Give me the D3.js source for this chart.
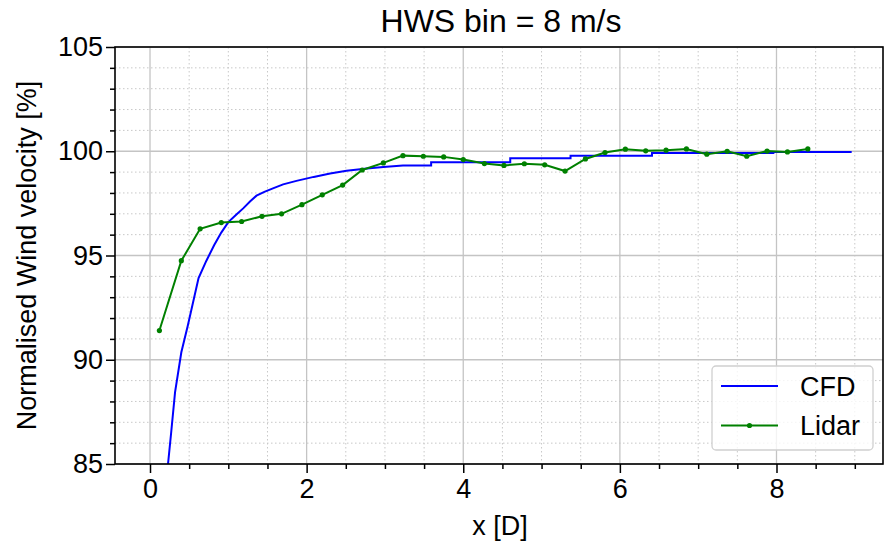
<!DOCTYPE html>
<html>
<head>
<meta charset="utf-8">
<title>HWS bin = 8 m/s</title>
<script src="https://cdn.jsdelivr.net/npm/d3@7"></script>
<style>
  body { margin: 0; background: #fff; }
  text { font-family: "Liberation Sans", Arial, sans-serif; fill: #000; }
</style>
</head>
<body>
<div id="chart"></div>
<script>
// CFD profile
var cfdX = [0.10, 0.23, 0.27, 0.32, 0.40, 0.48, 0.62, 0.72, 0.82, 0.91, 1.00, 1.10, 1.19, 1.28, 1.36, 1.46, 1.57, 1.70, 1.87, 2.09, 2.30, 2.51, 2.77, 2.98, 3.23, 3.59, 3.59, 4.60, 4.60, 5.37, 5.37, 6.41, 6.41, 7.96, 7.96, 8.96]
var cfdY = [80.5, 85.0, 86.5, 88.45, 90.36, 91.6, 93.92, 94.75, 95.5, 96.1, 96.6, 96.95, 97.26, 97.6, 97.87, 98.05, 98.22, 98.41, 98.58, 98.77, 98.93, 99.06, 99.17, 99.25, 99.32, 99.32, 99.47, 99.47, 99.67, 99.67, 99.79, 99.79, 99.92, 99.92, 99.97, 99.97]

// Lidar measurements
var lidarX = [0.12, 0.40, 0.64, 0.91, 1.17, 1.43, 1.68, 1.94, 2.20, 2.46, 2.71, 2.98, 3.23, 3.49, 3.75, 4.00, 4.27, 4.52, 4.78, 5.04, 5.30, 5.56, 5.81, 6.07, 6.33, 6.59, 6.85, 7.11, 7.37, 7.62, 7.88, 8.14, 8.40]
var lidarY = [91.4, 94.75, 96.28, 96.58, 96.63, 96.88, 97.0, 97.44, 97.91, 98.38, 99.1, 99.44, 99.79, 99.76, 99.73, 99.6, 99.41, 99.32, 99.4, 99.35, 99.05, 99.63, 99.94, 100.1, 100.02, 100.05, 100.11, 99.86, 100.0, 99.76, 100.01, 99.97, 100.11]

var xTicks = [0, 2, 4, 6, 8]
var yTicks = [85, 90, 95, 100, 105]
var seriesNames = ["CFD", "Lidar"]
var titleText = "HWS bin = 8 m/s"
var xLabel = "x [D]"
var yLabel = "Normalised Wind velocity [%]"

var W = 887, H = 543
var pLeft = 115, pRight = 883, pTop = 47, pBottom = 464

var svg = d3.select("#chart").append("svg")
  .attr("width", W).attr("height", H)

var x = d3.scaleLinear().domain([-0.447, 9.36]).range([pLeft, pRight])
var y = d3.scaleLinear().domain([85, 105]).range([pBottom, pTop])

var xMinor = d3.range(0, 9.5, 0.5).filter(function(d) { return xTicks.indexOf(d) < 0 && x(d) < pRight })
var yMinor = d3.range(85, 105.5, 1).filter(function(d) { return yTicks.indexOf(d) < 0 })

svg.append("clipPath").attr("id", "clip")
  .append("rect").attr("x", pLeft).attr("y", pTop).attr("width", pRight - pLeft).attr("height", pBottom - pTop)

// minor grid
var grid = svg.append("g")
grid.selectAll(".gxm").data(xMinor).enter().append("line")
  .attr("x1", function(d) { return x(d) }).attr("x2", function(d) { return x(d) })
  .attr("y1", pTop).attr("y2", pBottom)
  .attr("stroke", "#c8c8c8").attr("stroke-width", 1).attr("stroke-dasharray", "1.5,2.5")
grid.selectAll(".gym").data(yMinor).enter().append("line")
  .attr("y1", function(d) { return y(d) }).attr("y2", function(d) { return y(d) })
  .attr("x1", pLeft).attr("x2", pRight)
  .attr("stroke", "#c8c8c8").attr("stroke-width", 1).attr("stroke-dasharray", "1.5,2.5")
// major grid
grid.selectAll(".gx").data(xTicks).enter().append("line")
  .attr("x1", function(d) { return x(d) }).attr("x2", function(d) { return x(d) })
  .attr("y1", pTop).attr("y2", pBottom)
  .attr("stroke", "#c4c4c4").attr("stroke-width", 1.3)
grid.selectAll(".gy").data(yTicks).enter().append("line")
  .attr("y1", function(d) { return y(d) }).attr("y2", function(d) { return y(d) })
  .attr("x1", pLeft).attr("x2", pRight)
  .attr("stroke", "#c4c4c4").attr("stroke-width", 1.3)

// data lines
var cfd = cfdX.map(function(d, i) { return [d, cfdY[i]] })
var lidar = lidarX.map(function(d, i) { return [d, lidarY[i]] })
var line = d3.line().x(function(d) { return x(d[0]) }).y(function(d) { return y(d[1]) })

var plot = svg.append("g").attr("clip-path", "url(#clip)")
plot.append("path").datum(cfd).attr("d", line)
  .attr("fill", "none").attr("stroke", "#0000ff").attr("stroke-width", 2)
plot.append("path").datum(lidar).attr("d", line)
  .attr("fill", "none").attr("stroke", "#008000").attr("stroke-width", 2)
plot.selectAll(".pt").data(lidar).enter().append("circle")
  .attr("cx", function(d) { return x(d[0]) }).attr("cy", function(d) { return y(d[1]) })
  .attr("r", 2.6).attr("fill", "#008000")

// axes
var xAxis = d3.axisBottom(x).tickValues(xTicks).tickSize(9).tickPadding(6).tickFormat(d3.format("d"))
var yAxis = d3.axisLeft(y).tickValues(yTicks).tickSize(9).tickPadding(3).tickFormat(d3.format("d"))
var gx = svg.append("g").attr("transform", "translate(0," + pBottom + ")").call(xAxis)
var gy = svg.append("g").attr("transform", "translate(" + pLeft + ",0)").call(yAxis)
svg.append("g").attr("transform", "translate(0," + pBottom + ")")
  .call(d3.axisBottom(x).tickValues(xMinor).tickSize(5).tickFormat(""))
svg.append("g").attr("transform", "translate(" + pLeft + ",0)")
  .call(d3.axisLeft(y).tickValues(yMinor).tickSize(5).tickFormat(""))
svg.selectAll(".domain").remove()
svg.selectAll(".tick line").attr("stroke", "#000").attr("stroke-width", 1.5)
gx.selectAll("text").attr("font-size", 27).style("font-family", "Liberation Sans, Arial, sans-serif")
gy.selectAll("text").attr("font-size", 27).style("font-family", "Liberation Sans, Arial, sans-serif")

// frame
svg.append("rect").attr("x", pLeft).attr("y", pTop).attr("width", pRight - pLeft).attr("height", pBottom - pTop)
  .attr("fill", "none").attr("stroke", "#000").attr("stroke-width", 1.6)

// title and labels
svg.append("text").attr("x", 501).attr("y", 32).attr("text-anchor", "middle")
  .attr("font-size", 32).text(titleText)
svg.append("text").attr("x", 500).attr("y", 535).attr("text-anchor", "middle")
  .attr("font-size", 27).text(xLabel)
svg.append("text").attr("transform", "translate(36," + ((pTop + pBottom) / 2) + ") rotate(-90)")
  .attr("text-anchor", "middle").attr("font-size", 27).text(yLabel)

// legend
var lg = svg.append("g")
lg.append("rect").attr("x", 712).attr("y", 366).attr("width", 161).attr("height", 84)
  .attr("rx", 4).attr("fill", "#fff").attr("fill-opacity", 0.8)
  .attr("stroke", "#d0d0d0").attr("stroke-width", 1.3)
var legColors = ["#0000ff", "#008000"]
seriesNames.forEach(function(name, i) {
  var ly = 386 + i * 39.5
  lg.append("line").attr("x1", 721).attr("x2", 778).attr("y1", ly).attr("y2", ly)
    .attr("stroke", legColors[i]).attr("stroke-width", 2)
  if (name === "Lidar") {
    lg.append("circle").attr("cx", 749.5).attr("cy", ly).attr("r", 2.6).attr("fill", legColors[i])
  }
  lg.append("text").attr("x", 800).attr("y", ly + 9.5).attr("font-size", 27).text(name)
})
</script>
</body>
</html>
